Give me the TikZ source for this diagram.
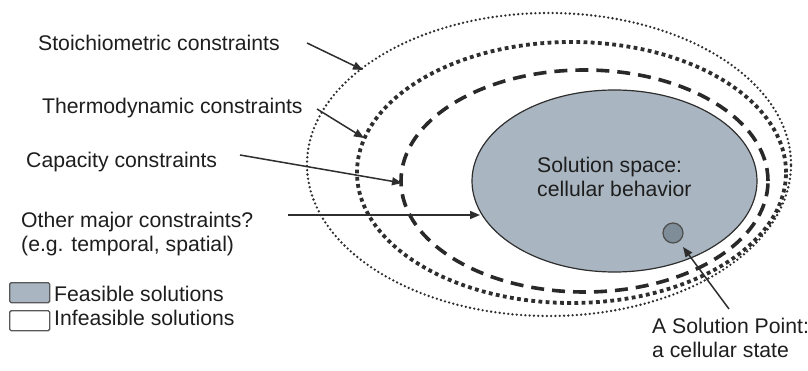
\documentclass[tikz,border=0pt]{standalone}
\usepackage{fontspec}
\setmainfont{Liberation Sans}
\usetikzlibrary{arrows.meta}
\definecolor{txt}{HTML}{1E1E1E}
\definecolor{ln}{HTML}{2E2E2E}
\definecolor{feas}{HTML}{A9B5C0}
\definecolor{ptfill}{HTML}{7F8D98}
\begin{document}
\begin{tikzpicture}[x=1pt,y=-1pt,
  lbl/.style={anchor=base west, inner sep=0pt, text=txt, font=\fontsize{21.2}{23.5}\selectfont},
  lbltwo/.style={anchor=north west, inner sep=0pt, align=left, text=txt, font=\fontsize{21.2}{23.5}\selectfont},
  ptr/.style={draw=ln, line width=1.5pt, -{Triangle[length=10pt,width=8pt]}},
  finedots/.style={draw=ln, line width=2.6pt, line cap=round, dash pattern=on 0pt off 4.3pt},
  bigdots/.style={draw=ln, line width=3.8pt, dash pattern=on 3.8pt off 3.4pt},
  dashring/.style={draw=ln!90!black, line width=3.6pt, dash pattern=on 13pt off 8pt},
  legbox/.style={draw=ln!80, line width=1.4pt, rounded corners=1.5pt, minimum width=40pt, minimum height=20pt, inner sep=0pt, anchor=north west}]
\path[use as bounding box, fill=white] (0,0) rectangle (808,371);

% constraint rings
\draw[finedots] (549,164.5) ellipse [x radius=242pt, y radius=151.5pt];
\draw[bigdots] (571.5,172.5) ellipse [x radius=214.5pt, y radius=130.5pt];
\draw[dashring] (584.5,181) ellipse [x radius=183.5pt, y radius=111pt];
% solution space
\draw[fill=feas, draw=ln, line width=1.2pt] (614.5,181) ellipse [x radius=142.5pt, y radius=91pt];
\node[circle, minimum size=20pt, inner sep=0pt, fill=ptfill, draw=ln!85, line width=1.2pt] (sp) at (673,233) {};

% labels
\node[lbl] (t1) at (38,51) {Stoichiometric constraints};
\node[lbl] (t2) at (42,114) {Thermodynamic constraints};
\node[lbl] (t3) at (26,168) {Capacity constraints};
\node[lbltwo] (t4) at (21,212) {Other major constraints?\\(e.g. temporal, spatial)};
\node[lbltwo] (t7) at (537,157) {Solution space:\\cellular behavior};
\node[lbltwo] (t8) at (652,318) {A Solution Point:\\a cellular state};

% legend
\node[legbox, fill=feas] (lf) at (9,282) {};
\node[legbox, fill=white] (li) at (9,310) {};
\node[lbl] (t5) at (54,301) {Feasible solutions};
\node[lbl] (t6) at (54,325) {Infeasible solutions};

% arrows
\coordinate (a1s) at (307,43);  \coordinate (a1e) at (363,70);
\coordinate (a2s) at (317,109); \coordinate (a2e) at (364,138);
\coordinate (a3s) at (240,155); \coordinate (a3e) at (402,183);
\coordinate (a4s) at (288,215); \coordinate (a4e) at (480,215);
\coordinate (a5s) at (729,309); \coordinate (a5e) at (683,247);
\draw[ptr] (a1s) -- (a1e);
\draw[ptr] (a2s) -- (a2e);
\draw[ptr] (a3s) -- (a3e);
\draw[ptr] (a4s) -- (a4e);
\draw[ptr] (a5s) -- (a5e);
\end{tikzpicture}
\end{document}
